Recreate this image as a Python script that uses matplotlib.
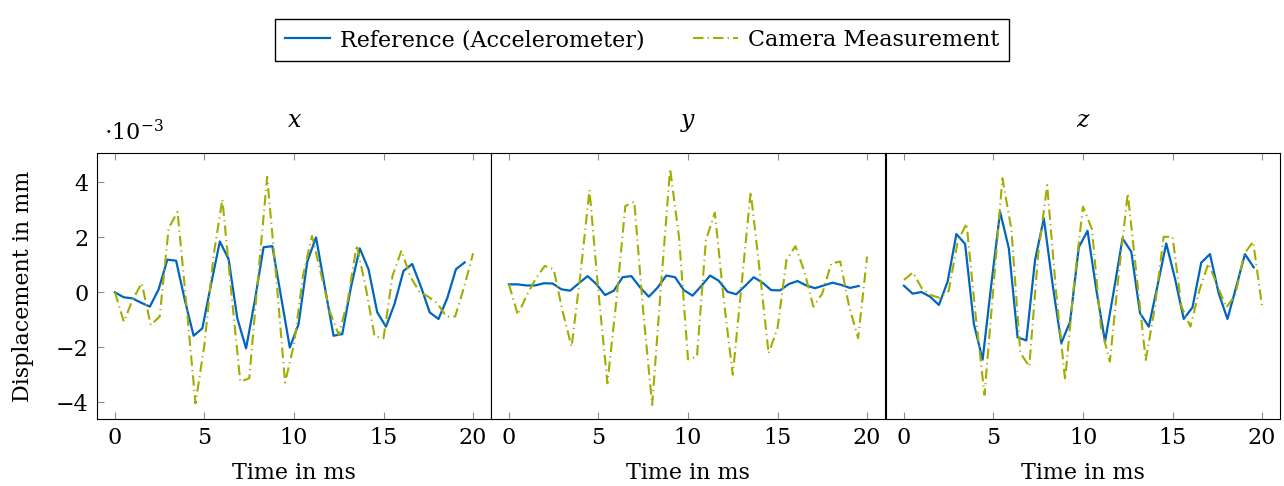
from matplotlib import pyplot as plt
import numpy as np

# accelerometer samples every 1/2048 s, camera every 0.5 ms (values in 1e-3 mm)
ref_x = [0.0, -0.18, -0.22, -0.38, -0.52, 0.11, 1.19, 1.15, -0.29, -1.58, -1.31,
         0.3, 1.85, 1.21, -0.95, -2.04, -0.3, 1.64, 1.68, -0.16, -2.01, -1.16,
         1.12, 2.0, 0.2, -1.58, -1.52, 0.2, 1.6, 0.84, -0.73, -1.25, -0.4, 0.78,
         1.03, 0.2, -0.73, -0.97, -0.22, 0.84, 1.09]
cam_x = [0.0, -1.07, -0.25, 0.33, -1.19, -0.88, 2.33, 2.93, -0.5, -4.04, -1.9,
         1.3, 3.38, 0.0, -3.25, -3.13, 0.6, 4.2, 0.6, -3.28, -1.9, 0.6, 2.05,
         0.7, -0.7, -1.55, -0.3, 1.72, 0.2, -1.6, -1.67, 0.6, 1.52, 0.57, 0.02,
         -0.16, -0.4, -0.88, -0.88, 0.2, 1.42]

ref_y = [0.29, 0.29, 0.25, 0.25, 0.33, 0.32, 0.11, 0.06, 0.33, 0.59, 0.3, -0.1,
         0.06, 0.55, 0.59, 0.18, -0.16, 0.17, 0.61, 0.55, 0.08, -0.12, 0.23,
         0.61, 0.42, 0.02, -0.07, 0.23, 0.55, 0.35, 0.08, 0.07, 0.3, 0.41, 0.25,
         0.15, 0.25, 0.35, 0.27, 0.16, 0.23]
cam_y = [0.29, -0.82, -0.1, 0.5, 0.96, 0.84, -0.7, -1.98, 0.7, 3.72, 0.0, -3.31,
         -0.3, 3.14, 3.3, -0.7, -4.1, 0.3, 4.5, 2.0, -2.44, -2.34, 1.9, 2.9,
         -0.3, -3.0, 0.33, 3.66, 0.8, -2.22, -1.3, 1.18, 1.68, 0.75, -0.52,
         -0.04, 1.05, 1.12, -0.52, -1.67, 1.3]

ref_z = [0.24, -0.05, 0.01, -0.16, -0.46, 0.39, 2.12, 1.76, -1.15, -2.45, 0.3,
         2.93, 1.6, -1.64, -1.75, 1.18, 2.69, 0.3, -1.85, -1.07, 1.64, 2.24, 0.1,
         -1.79, 0.05, 1.96, 1.48, -0.76, -1.25, 0.24, 1.78, 0.5, -0.97, -0.55,
         1.08, 1.39, -0.04, -0.97, 0.2, 1.39, 0.91]
cam_z = [0.45, 0.72, 0.15, -0.1, -0.2, 0.05, 1.85, 2.5, -0.8, -3.73, 0.2, 4.15,
         2.3, -2.2, -2.7, 1.4, 3.9, 0.0, -3.19, 0.3, 3.12, 2.3, -1.25, -2.52,
         0.7, 3.6, 0.57, -2.46, -0.6, 2.02, 2.02, -0.52, -1.25, 0.08, 1.05, 0.25,
         -0.55, -0.1, 1.4, 1.84, -0.52]

titles = ['x', 'y', 'z']
BLUE = '#0065BD'
GREEN = '#A2AD00'

plt.rcParams['font.family'] = ['DejaVu Serif']
plt.rcParams['mathtext.fontset'] = 'dejavuserif'
plt.rcParams['font.size'] = 16


def main():
    t_ref = np.arange(len(ref_x)) / 2.048
    t_cam = np.arange(len(cam_x)) * 0.5

    fig = plt.figure(figsize=(12.84, 4.86), dpi=100)
    W, H = 1284, 486
    lefts = [97, 491, 886]
    data = [(ref_x, cam_x), (ref_y, cam_y), (ref_z, cam_z)]

    for i, (left, (ref, cam)) in enumerate(zip(lefts, data)):
        ax = fig.add_axes([left / W, 1 - 419 / H, 394 / W, 266 / H])
        l1, = ax.plot(t_ref, ref, color=BLUE, lw=1.6)
        l2, = ax.plot(t_cam, cam, color=GREEN, lw=1.5, ls=(0, (5, 2, 0.6, 2)))
        ax.set_xlim(-1, 21)
        ax.set_ylim(-4.61, 5.07)
        ax.set_xticks([0, 5, 10, 15, 20])
        ax.tick_params(direction='in', top=True, color='0.55', length=5,
                       labelsize=16, pad=6)
        if i == 0:
            ax.set_yticks([-4, -2, 0, 2, 4])
            ax.set_yticklabels(['\u22124', '\u22122', '0', '2', '4'])
            ax.set_ylabel('Displacement in mm', fontsize=16)
            ax.yaxis.set_label_coords(-63 / 394, 0.5)
        else:
            ax.set_yticks([])
        ax.set_xlabel('Time in ms', fontsize=16, labelpad=9)
        ax.set_title('$' + titles[i] + '$', fontsize=17, pad=19)

    fig.text(104 / W, 1 - 133 / H, r'$\cdot 10^{-3}$', fontsize=16,
             ha='left', va='center')

    fig.legend([l1, l2], ['Reference (Accelerometer)', 'Camera Measurement'],
               loc='upper center', bbox_to_anchor=(0.5, 1 - 8 / H), ncol=2,
               fancybox=False, edgecolor='black', framealpha=1,
               handlelength=2.0, handletextpad=0.45, columnspacing=2.2,
               fontsize=16, borderpad=0.45)

    fig.savefig('out.png', dpi=100)


if __name__ == '__main__':
    main()
